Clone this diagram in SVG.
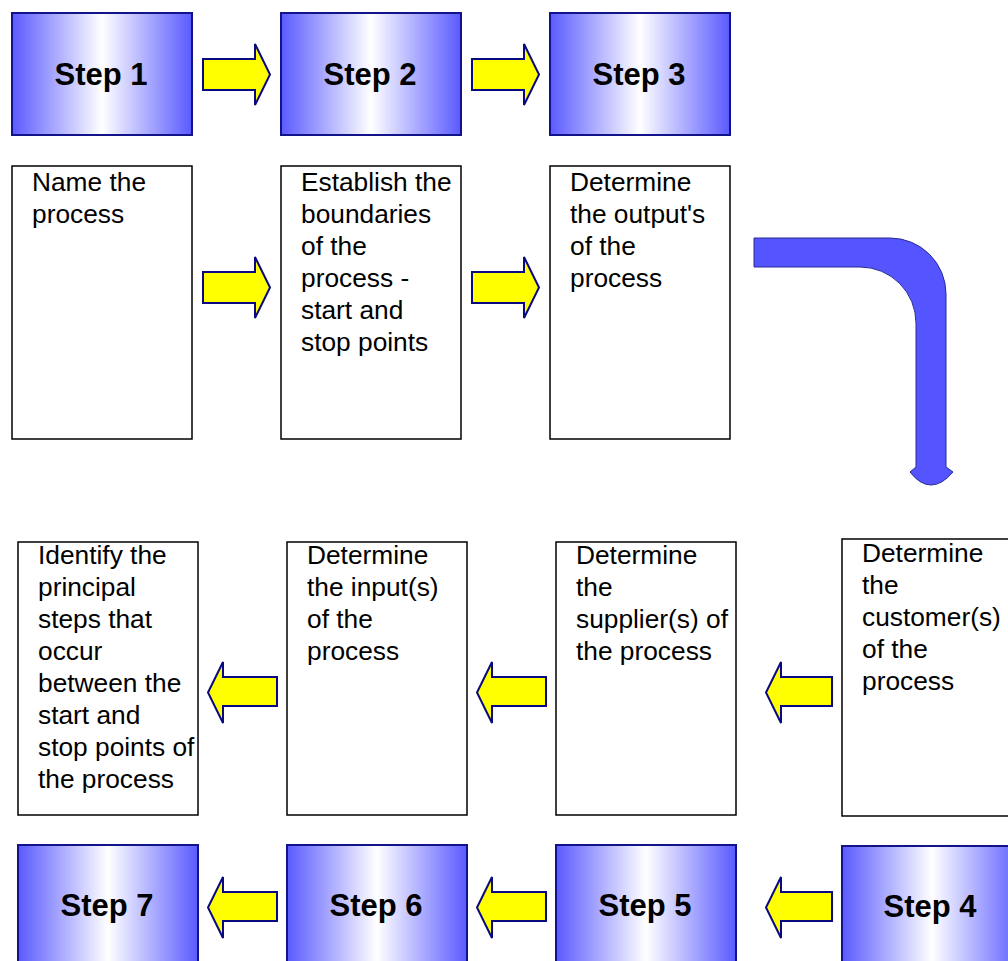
<svg xmlns="http://www.w3.org/2000/svg" width="1008" height="961" viewBox="0 0 1008 961">
<defs>
<linearGradient id="g" x1="0" y1="0" x2="1" y2="0">
<stop offset="0" stop-color="#5a5aff"/>
<stop offset="0.5" stop-color="#ffffff"/>
<stop offset="1" stop-color="#5a5aff"/>
</linearGradient>
<path id="ra" d="M0 15 L52 15 L52 0 L67 30.5 L52 61 L52 46 L0 46 Z"/>
<path id="la" d="M0 30.5 L15 0 L15 15 L69 15 L69 44 L15 44 L15 61 Z"/>
<path id="la2" d="M0 30.5 L15 0 L15 15 L66 15 L66 44 L15 44 L15 61 Z"/>
</defs>
<style>
.step{fill:url(#g);stroke:#12128a;stroke-width:2}
.box{fill:#fff;stroke:#000;stroke-width:1.5}
.st{font-family:"Liberation Sans",Arial,sans-serif;font-weight:bold;font-size:31px;text-anchor:middle;fill:#000}
.tx{font-family:"Liberation Sans",Arial,sans-serif;font-size:26.3px;fill:#000}
.ya{fill:#ffff00;stroke:#0a0a80;stroke-width:2;stroke-linejoin:miter}
</style>
<rect width="1008" height="961" fill="#fff"/>
<g id="step1"><rect class="step" x="12" y="13" width="180" height="122"/><text class="st" x="101" y="85">Step 1</text></g>
<g id="step2"><rect class="step" x="281" y="13" width="180" height="122"/><text class="st" x="370" y="85">Step 2</text></g>
<g id="step3"><rect class="step" x="550" y="13" width="180" height="122"/><text class="st" x="639" y="85">Step 3</text></g>
<g id="box1"><rect class="box" x="12" y="166" width="180" height="273"/><text class="tx" x="32" y="191">Name the</text><text class="tx" x="32" y="223">process</text></g>
<g id="box2"><rect class="box" x="281" y="166" width="180" height="273"/><text class="tx" x="301" y="191">Establish the</text><text class="tx" x="301" y="223">boundaries</text><text class="tx" x="301" y="255">of the</text><text class="tx" x="301" y="287">process -</text><text class="tx" x="301" y="319">start and</text><text class="tx" x="301" y="351">stop points</text></g>
<g id="box3"><rect class="box" x="550" y="166" width="180" height="273"/><text class="tx" x="570" y="191">Determine</text><text class="tx" x="570" y="223">the output's</text><text class="tx" x="570" y="255">of the</text><text class="tx" x="570" y="287">process</text></g>
<g id="box7"><rect class="box" x="18" y="542" width="180" height="273"/><text class="tx" x="38" y="564">Identify the</text><text class="tx" x="38" y="596">principal</text><text class="tx" x="38" y="628">steps that</text><text class="tx" x="38" y="660">occur</text><text class="tx" x="38" y="692">between the</text><text class="tx" x="38" y="724">start and</text><text class="tx" x="38" y="756">stop points of</text><text class="tx" x="38" y="788">the process</text></g>
<g id="box6"><rect class="box" x="287" y="542" width="180" height="273"/><text class="tx" x="307" y="564">Determine</text><text class="tx" x="307" y="596">the input(s)</text><text class="tx" x="307" y="628">of the</text><text class="tx" x="307" y="660">process</text></g>
<g id="box5"><rect class="box" x="556" y="542" width="180" height="273"/><text class="tx" x="576" y="564">Determine</text><text class="tx" x="576" y="596">the</text><text class="tx" x="576" y="628">supplier(s) of</text><text class="tx" x="576" y="660">the process</text></g>
<g id="box4"><rect class="box" x="842" y="539" width="180" height="277"/><text class="tx" x="862" y="562">Determine</text><text class="tx" x="862" y="594">the</text><text class="tx" x="862" y="626">customer(s)</text><text class="tx" x="862" y="658">of the</text><text class="tx" x="862" y="690">process</text></g>
<g id="step7"><rect class="step" x="18" y="845" width="180" height="130"/><text class="st" x="107" y="916">Step 7</text></g>
<g id="step6"><rect class="step" x="287" y="845" width="180" height="130"/><text class="st" x="376" y="916">Step 6</text></g>
<g id="step5"><rect class="step" x="556" y="845" width="180" height="130"/><text class="st" x="645" y="916">Step 5</text></g>
<g id="step4"><rect class="step" x="842" y="846" width="180" height="130"/><text class="st" x="930" y="917">Step 4</text></g>
<g id="connectors">
<use href="#ra" class="ya" x="203" y="44"/>
<use href="#ra" class="ya" x="472" y="44"/>
<use href="#ra" class="ya" x="203" y="257"/>
<use href="#ra" class="ya" x="472" y="257"/>
<use href="#la" class="ya" x="208" y="662"/>
<use href="#la" class="ya" x="477" y="662"/>
<use href="#la2" class="ya" x="766" y="662"/>
<use href="#la" class="ya" x="208" y="877"/>
<use href="#la" class="ya" x="477" y="877"/>
<use href="#la2" class="ya" x="766" y="877"/>
<path d="M754 238 L890 238 A56 56 0 0 1 946 294 L946 467 L953 472 Q942 485 931 485 Q920 485 910 472 L916 467 L916 323 A56 56 0 0 0 860 267 L754 267 Z" fill="#5555ff" stroke="#2a2a99" stroke-width="1"/>
</g>
</svg>
